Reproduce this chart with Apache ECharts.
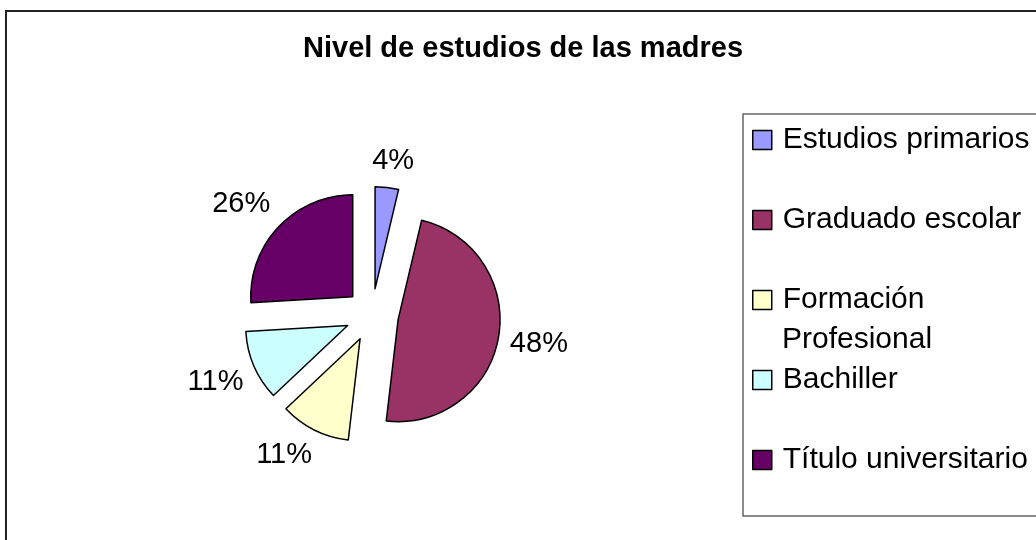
<!DOCTYPE html>
<html>
<head>
<meta charset="utf-8">
<title>Nivel de estudios de las madres</title>
<script src="https://cdn.jsdelivr.net/npm/echarts@6/dist/echarts.min.js"></script>
<style>
  html, body { margin: 0; padding: 0; background: #fff; }
  #chart { width: 1036px; height: 540px; }
</style>
</head>
<body>
<div id="chart"></div>
<script>
// datos del gráfico
const categories = ['Estudios primarios', 'Graduado escolar', 'Formación Profesional', 'Bachiller', 'Título universitario']
const legendLabels = ['Estudios primarios', 'Graduado escolar', 'Formación\nProfesional', 'Bachiller', 'Título universitario']
const counts = [1, 13, 3, 3, 7]
const colors = ['#9999FF', '#993366', '#FFFFCC', '#CCFFFF', '#660066']

const FONT = '"Liberation Sans", Arial, sans-serif'
const CENTER = [372, 315]
const R = 102
const OFFSET = 26.5
const LABEL_GAP = 11.5

const chart = echarts.init(document.getElementById('chart'))

// una leyenda por línea de texto, para reproducir el espaciado de Excel
const legends = []
categories.forEach((name, i) => {
  const lines = legendLabels[i].split('\n')
  const iconCenter = 140 + 80 * i
  lines.forEach((line, j) => {
    legends.push({
      data: [name],
      orient: 'vertical',
      left: 752,
      top: iconCenter + 40 * j - 18.5,
      padding: 0,
      icon: j === 0 ? 'rect' : 'none',
      itemWidth: 19,
      itemHeight: 19,
      selectedMode: false,
      itemStyle: { borderColor: '#000', borderWidth: 1.5 },
      formatter: () => line,
      textStyle: {
        fontFamily: FONT,
        fontSize: 30,
        color: '#000',
        lineHeight: 37,
        padding: [0, 0, 0, 6]
      }
    })
  })
})

// etiqueta junto al sector separado, desplazada según el ángulo (como Excel)
const sat = v => Math.max(-1, Math.min(1, 2 * v))
const placeLabel = (params) => {
  const layout = chart.getModel().getSeriesByIndex(params.seriesIndex).getData().getItemLayout(params.dataIndex)
  const mid = (layout.startAngle + layout.endAngle) / 2
  const ux = Math.cos(mid)
  const uy = Math.sin(mid)
  const w = params.labelRect.width
  const h = params.labelRect.height
  const d = layout.r + OFFSET + LABEL_GAP
  return {
    x: layout.cx + ux * d + w / 2 * sat(ux),
    y: layout.cy + uy * d + h / 2 * sat(uy),
    align: 'center',
    verticalAlign: 'middle'
  }
}

const pieData = categories.map((name, i) => ({
  name: name,
  value: counts[i],
  itemStyle: { color: colors[i] }
}))

chart.setOption({
  animation: false,
  title: {
    text: 'Nivel de estudios de las madres',
    left: 303,
    top: 34,
    padding: 0,
    textStyle: { fontFamily: FONT, fontSize: 29, fontWeight: 'bold', color: '#000' }
  },
  legend: legends,
  graphic: [
    {
      type: 'rect',
      shape: { x: 6, y: 11, width: 1200, height: 700 },
      style: { fill: 'none', stroke: '#222', lineWidth: 2 },
      silent: true
    },
    {
      type: 'rect',
      shape: { x: 743, y: 114, width: 400, height: 402 },
      style: { fill: 'none', stroke: '#666', lineWidth: 1.5 },
      silent: true
    }
  ],
  series: [
    {
      // sectores separados
      type: 'pie',
      center: CENTER,
      radius: R,
      startAngle: 90,
      clockwise: true,
      selectedMode: 'multiple',
      selectedOffset: OFFSET,
      itemStyle: { borderColor: '#000', borderWidth: 1.5 },
      select: { itemStyle: { borderColor: '#000', borderWidth: 1.5 } },
      emphasis: { disabled: true },
      label: { show: false },
      labelLine: { show: false },
      data: pieData.map(d => Object.assign({ selected: true }, d))
    },
    {
      // etiquetas de porcentaje
      type: 'pie',
      center: CENTER,
      radius: R,
      startAngle: 90,
      clockwise: true,
      silent: true,
      selectedMode: false,
      avoidLabelOverlap: false,
      itemStyle: { color: 'rgba(0,0,0,0)', borderWidth: 0 },
      emphasis: { disabled: true },
      label: {
        show: true,
        position: 'outside',
        fontFamily: FONT,
        fontSize: 29,
        lineHeight: 29,
        color: '#000',
        formatter: p => Math.round(p.percent) + '%'
      },
      labelLine: { show: false },
      labelLayout: placeLabel,
      data: pieData.map(d => ({ name: d.name, value: d.value }))
    }
  ]
})
</script>
</body>
</html>
